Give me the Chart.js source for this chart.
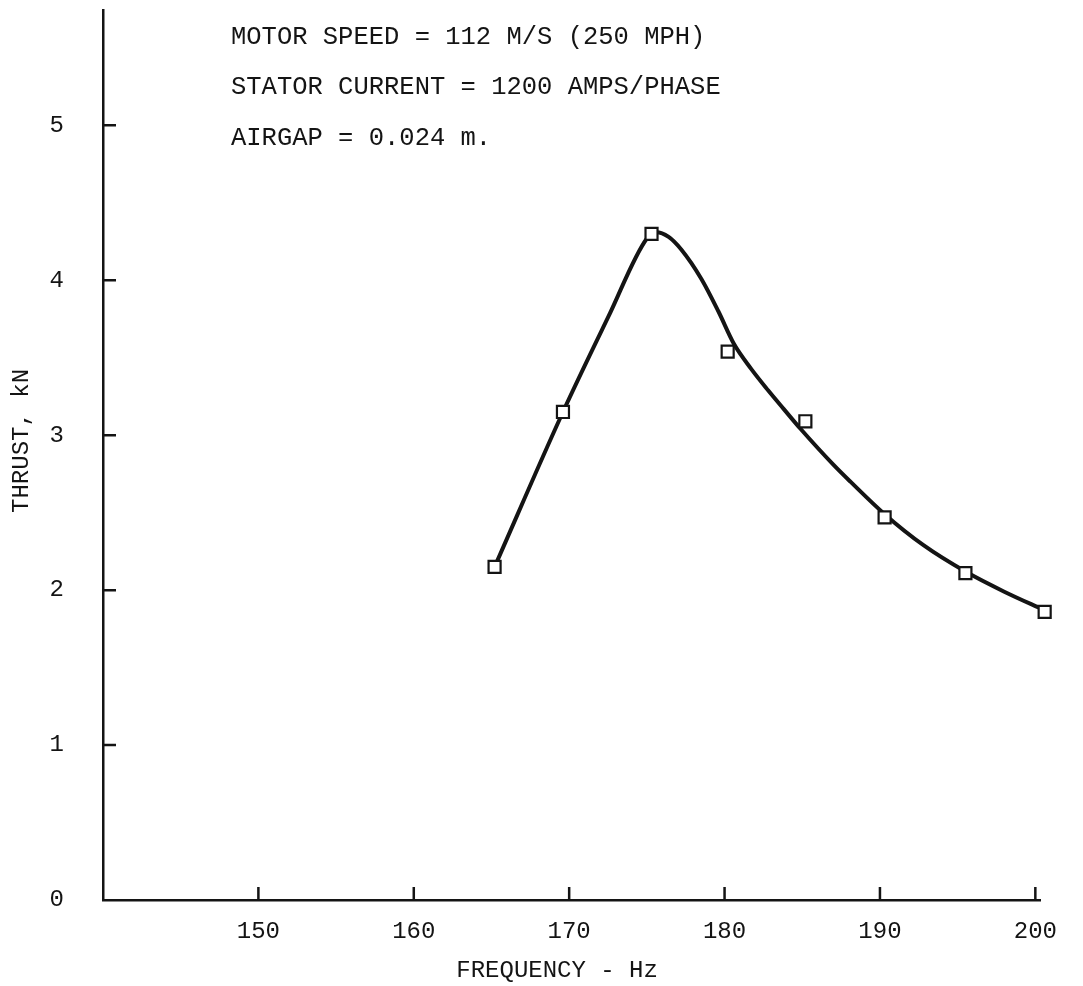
<!DOCTYPE html>
<html>
<head>
<meta charset="utf-8">
<title>Thrust vs frequency</title>
<script src="https://cdn.jsdelivr.net/npm/chart.js@4/dist/chart.umd.min.js"></script>
<style>
  body { margin: 0; background: #fff; }
  #wrap { width: 1083px; height: 986px; }
</style>
</head>
<body>
<div id="wrap"><canvas id="thrust"></canvas></div>
<script>
// tick labels
const freqTicks = [150, 160, 170, 180, 190, 200];
const thrustTicks = [0, 1, 2, 3, 4, 5];

// measured points (squares)
const measuredFreq = [165.2, 169.6, 175.3, 180.2, 185.2, 190.3, 195.5, 200.6];
const measuredThrust = [2.15, 3.15, 4.30, 3.54, 3.09, 2.47, 2.11, 1.86];

// faired curve
const curveFreq = [165.2, 169.6, 172.5, 175.0, 175.6, 176.4, 177.2, 178.5, 179.6, 180.6,
  181.7, 182.8, 183.8, 184.9, 187.0, 188.1, 190.3, 192.8, 195.5, 198.0, 200.6];
const curveThrust = [2.15, 3.15, 3.76, 4.27, 4.31, 4.28, 4.20, 4.01, 3.80, 3.59,
  3.43, 3.29, 3.17, 3.04, 2.81, 2.70, 2.49, 2.29, 2.12, 1.99, 1.87];

const noteLines = [
  'MOTOR SPEED = 112 M/S (250 MPH)',
  'STATOR CURRENT = 1200 AMPS/PHASE',
  'AIRGAP = 0.024 m.',
];

const ink = '#141414';
const mono = '"Liberation Mono", "DejaVu Sans Mono", monospace';

const toPoints = (xs, ys) => xs.map((x, i) => ({ x, y: ys[i] }));

// tick marks pointing into the plot, plus the notes in the corner
const extras = {
  id: 'extras',
  afterDraw(chart) {
    const { ctx, chartArea, scales } = chart;
    ctx.save();
    ctx.strokeStyle = ink;
    ctx.lineWidth = 2.5;
    ctx.beginPath();
    freqTicks.forEach((v) => {
      const px = scales.x.getPixelForValue(v);
      ctx.moveTo(px, chartArea.bottom);
      ctx.lineTo(px, chartArea.bottom - 13);
    });
    thrustTicks.slice(1).forEach((v) => {
      const py = scales.y.getPixelForValue(v);
      ctx.moveTo(chartArea.left, py);
      ctx.lineTo(chartArea.left + 13, py);
    });
    ctx.stroke();

    ctx.fillStyle = ink;
    ctx.font = '25.5px ' + mono;
    ctx.textBaseline = 'middle';
    noteLines.forEach((line, i) => {
      ctx.fillText(line, 231, 37 + i * 50.5);
    });
    ctx.restore();
  },
};

new Chart(document.getElementById('thrust'), {
  type: 'scatter',
  data: {
    datasets: [
      {
        label: 'measured',
        data: toPoints(measuredFreq, measuredThrust),
        pointStyle: 'rect',
        pointRadius: 8.5,
        pointBorderWidth: 2.2,
        pointBackgroundColor: '#fff',
        pointBorderColor: ink,
        showLine: false,
        clip: false,
        order: 0,
      },
      {
        label: 'curve',
        data: toPoints(curveFreq, curveThrust),
        showLine: true,
        borderColor: ink,
        borderWidth: 4,
        pointRadius: 0,
        cubicInterpolationMode: 'monotone',
        clip: false,
        order: 1,
      },
    ],
  },
  options: {
    responsive: true,
    maintainAspectRatio: false,
    animation: false,
    layout: { padding: { top: 10, right: 43, left: 0, bottom: 0 } },
    plugins: {
      legend: { display: false },
      tooltip: { enabled: false },
    },
    scales: {
      x: {
        type: 'linear',
        min: 140,
        max: 200.3,
        afterBuildTicks: (scale) => { scale.ticks = freqTicks.map((v) => ({ value: v })); },
        afterFit: (scale) => { scale.height = 86; },
        grid: { display: false, drawTicks: false },
        border: { display: true, color: ink, width: 2.5 },
        ticks: {
          color: ink,
          padding: 17,
          maxRotation: 0,
          font: { family: mono, size: 24 },
        },
        title: {
          display: true,
          text: 'FREQUENCY - Hz  ',
          color: ink,
          padding: { top: 0, bottom: 1 },
          font: { family: mono, size: 24 },
        },
      },
      y: {
        type: 'linear',
        min: 0,
        max: 5.74,
        afterBuildTicks: (scale) => { scale.ticks = thrustTicks.map((v) => ({ value: v })); },
        afterFit: (scale) => {
          scale.width = 103;
          // the big label padding should not push the plot down
          scale.paddingTop = 0;
          scale.paddingBottom = 0;
        },
        grid: { display: false, drawTicks: false },
        border: { display: true, color: ink, width: 2.5 },
        ticks: {
          color: ink,
          padding: 39,
          font: { family: mono, size: 24 },
        },
        title: {
          display: true,
          text: '  THRUST, kN',
          color: ink,
          padding: { top: 7, bottom: 0 },
          font: { family: mono, size: 24 },
        },
      },
    },
  },
  plugins: [extras],
});
</script>
</body>
</html>
